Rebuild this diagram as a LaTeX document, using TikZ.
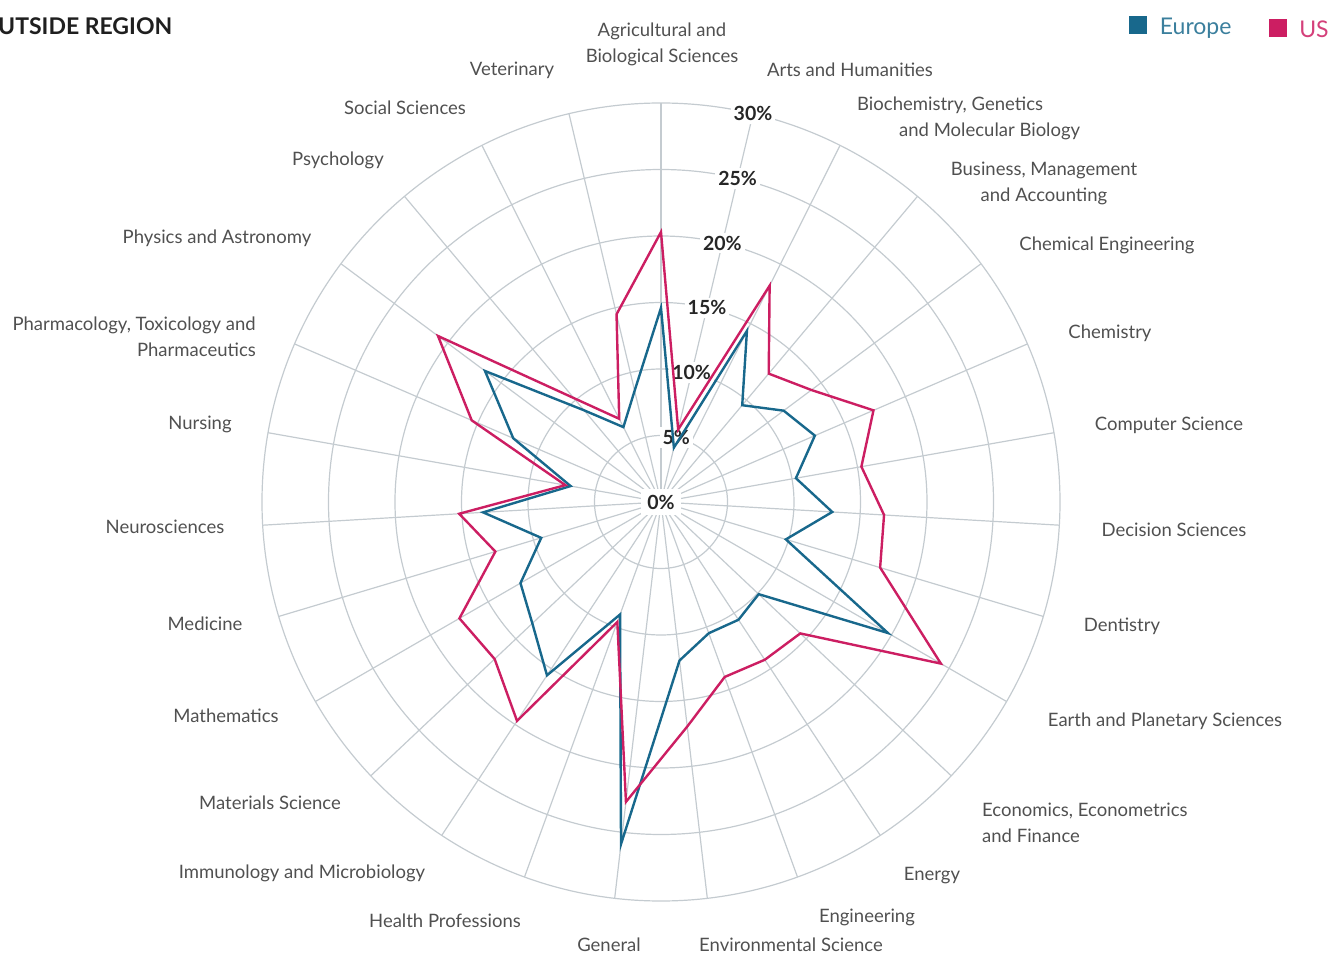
\documentclass[tikz,border=0pt]{standalone}
\usepackage{fontspec}
\setmainfont{Lato}
\usetikzlibrary{positioning}
\definecolor{eublue}{RGB}{24,104,140}
\definecolor{uspink}{RGB}{204,30,98}
\definecolor{gridgray}{RGB}{196,203,208}
\definecolor{labelgray}{RGB}{80,80,80}

\begin{document}
\begin{tikzpicture}[x=1pt, y=1pt]
	\tikzstyle{grid}
	  =[draw=gridgray, line width=1.2pt]
	\tikzstyle{cat}
	  =[text=labelgray, font=\fontsize{18.5}{26}\selectfont, 
	  inner sep=0pt, align=center]
	\tikzstyle{pct}
	  =[fill=white, text=black!85, inner sep=3pt, 
	  font=\fontsize{19.5}{22}\selectfont\bfseries]
	\tikzstyle{euline}
	  =[draw=eublue, line width=2.4pt, line join=miter]
	\tikzstyle{usline}
	  =[draw=uspink, line width=2.4pt, line join=miter]
	\tikzstyle{key}
	  =[rectangle, minimum size=18pt, inner sep=0pt]
	\tikzstyle{keytext}
	  =[font=\fontsize{23}{23}\selectfont, inner sep=0pt]

	\useasboundingbox (-661,-453) rectangle (680,502);
	\coordinate (o) at (0,0);

	% rings and spokes
	\foreach \k in {1,...,6}
	  \draw[grid] (o) circle ({\k*66.5pt});
	\foreach \i in {0,...,26} {
	  \coordinate (sp\i) at ({90-\i*360/27}:399pt);
	  \draw[grid] (o) -- (sp\i);
	}

	% scale
	\node[pct, inner sep=6pt] (p0) at (o) {0\%};
	\foreach \p [count=\k] in {5,10,...,30}
	  \node[pct] (p\p) at ({90-360/27}:{\k*66.5pt}) {\p\%};

	% categories
	\node[cat] (agri) at (1,458) {Agricultural and\\Biological Sciences};
	\node[cat] (arts) at (189,432) {Arts and Humanities};
	\node[cat, anchor=west, align=left] (biochem) at (196,384)
	  {Biochemistry, Genetics\\\hspace*{42pt}and Molecular Biology};
	\node[cat] (business) at (383,319) {Business, Management\\and Accounting};
	\node[cat] (chemeng) at (446,257) {Chemical Engineering};
	\node[cat] (chem) at (449,169) {Chemistry};
	\node[cat] (cs) at (508,77) {Computer Science};
	\node[cat] (decision) at (513,-28) {Decision Sciences};
	\node[cat] (dent) at (461,-124) {Dentistry};
	\node[cat] (earth) at (504,-219) {Earth and Planetary Sciences};
	\node[cat, anchor=west, align=left] (econ) at (321,-321)
	  {Economics, Econometrics\\and Finance};
	\node[cat] (energy) at (271,-374) {Energy};
	\node[cat] (eng) at (206,-415) {Engineering};
	\node[cat] (env) at (130,-443) {Environmental Science};
	\node[cat] (general) at (-52,-443) {General};
	\node[cat] (health) at (-216,-419) {Health Professions};
	\node[cat] (immuno) at (-359,-371) {Immunology and Microbiology};
	\node[cat] (materials) at (-391,-301) {Materials Science};
	\node[cat] (math) at (-435,-214) {Mathematics};
	\node[cat] (medicine) at (-456,-122) {Medicine};
	\node[cat] (neuro) at (-496,-25) {Neurosciences};
	\node[cat] (nursing) at (-461,78) {Nursing};
	\node[cat, anchor=east, align=right] (pharma) at (-405,165)
	  {Pharmacology, Toxicology and\\Pharmaceutics};
	\node[cat] (physics) at (-444,264) {Physics and Astronomy};
	\node[cat] (psych) at (-323,342) {Psychology};
	\node[cat] (social) at (-256,394) {Social Sciences};
	\node[cat] (vet) at (-149,432) {Veterinary};

	% data
	\foreach \v [count=\i from 0] in {14.6,4.2,14.4,9.5,11.5,12.6,10.3,
	  12.9,9.8,19.7,10.1,10.6,10.5,12.0,25.9,9.0,15.6,13.3,12.2,9.4,
	  13.4,6.9,12.1,16.5,9.0,6.3,8.6}
	  \coordinate (eu\i) at ({90-\i*360/27}:{\v*13.3pt});
	\foreach \v [count=\i from 0] in {20.3,5.6,18.2,12.6,14.1,17.4,15.3,
	  16.8,17.2,24.3,14.4,14.2,14.0,17.0,22.7,9.6,19.7,17.2,17.5,13.0,
	  15.2,7.3,15.5,20.9,10.2,7.0,14.5}
	  \coordinate (us\i) at ({90-\i*360/27}:{\v*13.3pt});

	\draw[euline] (eu0) \foreach \i in {1,...,26}{ -- (eu\i)} -- cycle;
	\draw[usline] (us0) \foreach \i in {1,...,26}{ -- (us\i)} -- cycle;

	% title and legend
	\node[inner sep=0pt, anchor=base west, text=black!88, 
	  font=\fontsize{23}{23}\selectfont\bfseries] (title) 
	  at (-663,467) {UTSIDE REGION};
	\node[key, fill=eublue] (eukey) at (476.5,477) {};
	\node[keytext, text=eublue!85] (eutext) 
	  [right=13pt of eukey.south east, anchor=base west] {Europe};
	\node[key, fill=uspink] (uskey) 
	  [right=37pt of eutext.east, anchor=west] {};
	\node[keytext, text=uspink!85] (ustext) 
	  [right=12pt of uskey.south east, anchor=base west] {US};
\end{tikzpicture}
\end{document}
